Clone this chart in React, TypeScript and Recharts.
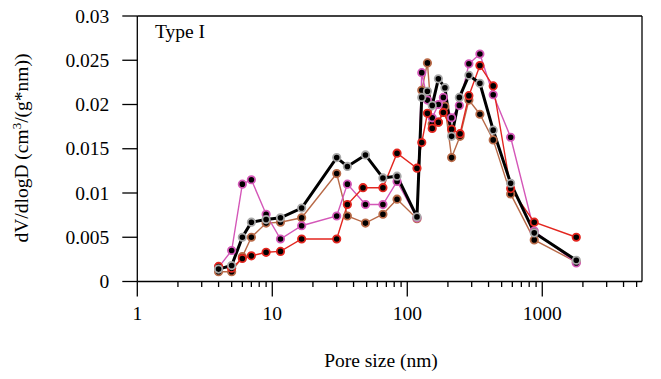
import React from 'react';
import { LineChart, Line, XAxis, YAxis, ReferenceLine } from 'recharts';

// Pore size (nm) and dV/dlogD values per sample
const poreBlack = [4, 5, 6, 7, 9, 11.5, 16.5, 30, 36, 49, 66, 84, 118, 128, 141, 153, 170, 190, 213, 243, 286, 345, 433, 583, 872, 1786];
const dvBlack = [0.0014, 0.0018, 0.005, 0.0067, 0.007, 0.0072, 0.0083, 0.014, 0.013, 0.0143, 0.0117, 0.0119, 0.0073, 0.0208, 0.0215, 0.0199, 0.0229, 0.0219, 0.0164, 0.0208, 0.0233, 0.0224, 0.0171, 0.0111, 0.0055, 0.0024];

const poreBrown = [4, 5, 6, 7, 9, 11.5, 16.5, 30, 36, 49, 66, 84, 118, 128, 141, 153, 170, 190, 213, 246, 286, 345, 433, 583, 872, 1786];
const dvBrown = [0.0011, 0.0011, 0.0028, 0.005, 0.0066, 0.0067, 0.0072, 0.0122, 0.0074, 0.0066, 0.0076, 0.0093, 0.0071, 0.0216, 0.0247, 0.0178, 0.018, 0.0198, 0.014, 0.0164, 0.0205, 0.0189, 0.016, 0.0099, 0.0047, 0.0022];

const poreRed = [4, 5, 6, 7, 9, 11.5, 16.5, 30, 36, 47, 66, 84, 118, 128, 141, 153, 170, 185, 213, 246, 286, 345, 433, 583, 872, 1786];
const dvRed = [0.0017, 0.0015, 0.0026, 0.0029, 0.0033, 0.0034, 0.0048, 0.0048, 0.0087, 0.0106, 0.0106, 0.0145, 0.0128, 0.0157, 0.019, 0.0173, 0.018, 0.0191, 0.0172, 0.0167, 0.021, 0.0244, 0.0221, 0.0105, 0.0067, 0.005];

const poreMagenta = [4, 5, 6, 7, 9, 11.5, 16.5, 30, 36, 49, 66, 84, 118, 128, 141, 153, 170, 185, 213, 243, 286, 345, 433, 583, 872, 1786];
const dvMagenta = [0.0016, 0.0035, 0.011, 0.0115, 0.0076, 0.0048, 0.0063, 0.0074, 0.011, 0.0087, 0.0087, 0.0113, 0.0072, 0.0236, 0.0205, 0.0185, 0.02, 0.0208, 0.0185, 0.0199, 0.0246, 0.0257, 0.0211, 0.0163, 0.0057, 0.0021];

const xTicks = [1, 2, 3, 4, 5, 6, 7, 8, 9, 10, 20, 30, 40, 50, 60, 70, 80, 90, 100, 200, 300, 400, 500, 600, 700, 800, 900, 1000, 2000, 3000, 4000, 5000];
const majorTicks = [1, 10, 100, 1000];
const yTicks = [0, 0.005, 0.01, 0.015, 0.02, 0.025, 0.03];

const toData = (xs: number[], ys: number[]) => xs.map((x, i) => ({ x, y: ys[i] }));

const FONT = '"Liberation Serif", "Times New Roman", serif';

const XTick = (props: any) => {
  const { x, y, payload } = props;
  const major = majorTicks.includes(payload.value);
  return (
    <g>
      <line x1={x} x2={x} y1={y} y2={y + (major ? 15 : 5.5)} stroke="#000" strokeWidth={1.3} />
      {major && (
        <text x={x} y={y + 38.5} textAnchor="middle" fontFamily={FONT} fontSize={19.5} fill="#000">
          {payload.value}
        </text>
      )}
    </g>
  );
};

const YTick = (props: any) => {
  const { x, y, payload } = props;
  return (
    <g>
      <line x1={x - 15} x2={x} y1={y} y2={y} stroke="#000" strokeWidth={1.3} />
      <text x={x - 28} y={y + 6.5} textAnchor="end" fontFamily={FONT} fontSize={19.5} fill="#000">
        {String(payload.value)}
      </text>
    </g>
  );
};

const YLabel = () => (
  <g>
    <text transform="translate(28,148) rotate(-90)" textAnchor="middle" fontFamily={FONT} fontSize={19.5} fill="#000">
      dV/dlogD (cm<tspan dy={-7} fontSize={13}>3</tspan><tspan dy={7}>/(g*nm))</tspan>
    </text>
    <text x={155} y={38} fontFamily={FONT} fontSize={19.5} fill="#000">Type I</text>
  </g>
);

const XLabel = () => (
  <text x={381} y={367} textAnchor="middle" fontFamily={FONT} fontSize={19.5} fill="#000">
    Pore size (nm)
  </text>
);

const series = [
  { name: 'brown', data: toData(poreBrown, dvBrown), color: '#b86a48', dotStroke: '#b86a48', width: 1.4 },
  { name: 'magenta', data: toData(poreMagenta, dvMagenta), color: '#d457b8', dotStroke: '#d457b8', width: 1.4 },
  { name: 'red', data: toData(poreRed, dvRed), color: '#e3261f', dotStroke: '#e3261f', width: 1.4 },
  { name: 'black', data: toData(poreBlack, dvBlack), color: '#000000', dotStroke: '#a8a8a8', width: 3 },
];

export default function App() {
  return (
    <div style={{ position: 'absolute', left: 0, top: 0, width: 661, height: 379 }}>
      <LineChart width={661} height={379} margin={{ top: 16, right: 19, left: 0, bottom: 0 }}>
        <XAxis
          dataKey="x"
          type="number"
          scale="log"
          domain={[1, 5480]}
          ticks={xTicks}
          interval={0}
          allowDataOverflow
          tick={<XTick />}
          tickLine={false}
          tickSize={0}
          tickMargin={0}
          height={97.5}
          axisLine={{ stroke: '#000', strokeWidth: 1.3 }}
          label={<XLabel />}
        />
        <YAxis
          type="number"
          domain={[0, 0.03]}
          ticks={yTicks}
          interval={0}
          tick={<YTick />}
          tickLine={false}
          tickSize={0}
          tickMargin={0}
          width={137.3}
          axisLine={{ stroke: '#000', strokeWidth: 1.3 }}
          label={<YLabel />}
        />
        <ReferenceLine y={0.03} stroke="#000" strokeWidth={1.3} />
        <ReferenceLine x={5480} stroke="#000" strokeWidth={1.3} />
        {series.map((s) => (
          <Line
            key={s.name}
            data={s.data}
            dataKey="y"
            type="linear"
            stroke={s.color}
            strokeWidth={s.width}
            dot={{ r: 3.7, fill: '#000', stroke: s.dotStroke, strokeWidth: 1.8 }}
            isAnimationActive={false}
          />
        ))}
      </LineChart>
    </div>
  );
}
